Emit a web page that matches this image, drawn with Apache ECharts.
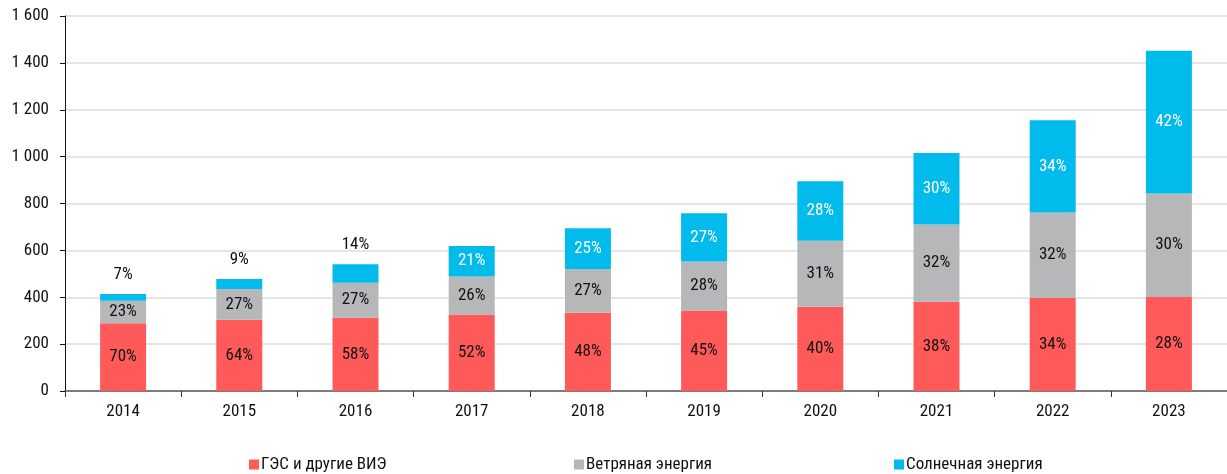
<!DOCTYPE html>
<html><head><meta charset="utf-8">
<script src="https://cdn.jsdelivr.net/npm/echarts@6/dist/echarts.min.js"></script>
<style>html,body{margin:0;padding:0;background:#fff}#c{width:1227px;height:474px}</style>
</head><body><div id="c"></div>
<script>
var categories = ['2014','2015','2016','2017','2018','2019','2020','2021','2022','2023'];
var hydro = [289, 304, 313, 326, 334, 343, 360, 381, 397, 401];
var wind  = [96, 131, 149, 163, 187, 210, 281, 329, 365, 442];
var solar = [29, 43, 79, 130, 173, 205, 254, 306, 393, 609];
var hydroPct = ['70%','64%','58%','52%','48%','45%','40%','38%','34%','28%'];
var windPct  = ['23%','27%','27%','26%','27%','28%','31%','32%','32%','30%'];
var solarPct = ['7%','9%','14%','21%','25%','27%','28%','30%','34%','42%'];
var seriesNames = ['ГЭС и другие ВИЭ','Ветряная энергия','Солнечная энергия'];
var colors = ['#ff5a5a','#b6b7b9','#00bbec'];
var smallSolar = 3;

var font = '"Liberation Sans Narrow", "Roboto Condensed", Roboto, sans-serif';
function mk(vals, pcts, idx){
  return {
    name: seriesNames[idx], type:'bar', stack:'s', barWidth:46,
    itemStyle:{color:colors[idx]},
    label:{show:true, position:'inside', fontFamily:font, fontSize:17,
      color: idx===2 ? '#fff' : '#111',
      formatter:function(p){return pcts[p.dataIndex];}},
    data: vals.map(function(v,i){
      if(idx===2 && i<smallSolar){
        return {value:v, label:{position:'top', color:'#111', distance:11}};
      }
      return v;
    })
  };
}
var chart = echarts.init(document.getElementById('c'));
chart.setOption({
  animation:false,
  textStyle:{fontFamily:font},
  grid:{left:65, right:-5, top:16, bottom:83},
  legend:[0,1,2].map(function(i){
    return {data:[seriesNames[i]], left:[244,569,889][i], top:451,
      itemWidth:10, itemHeight:10, itemGap:4, icon:'rect',
      textStyle:{fontFamily:font, fontSize:17, color:'#111', padding:[0,0,0,-3]}};
  }),
  xAxis:{type:'category', data:categories,
    axisLine:{lineStyle:{color:'#595959', width:1.5}},
    axisTick:{show:true, length:6, lineStyle:{color:'#333'}},
    axisLabel:{fontSize:17, color:'#111', margin:12}},
  yAxis:{type:'value', min:0, max:1600, interval:200,
    axisLine:{show:true, lineStyle:{color:'#111'}},
    axisTick:{show:true, length:5, lineStyle:{color:'#111'}},
    splitLine:{lineStyle:{color:'#dcdcdc', width:1.5}},
    axisLabel:{fontSize:17, color:'#111', margin:16,
      formatter:function(v){return String(v).replace(/\B(?=(\d{3})+(?!\d))/g,' ');}}},
  series:[mk(hydro,hydroPct,0), mk(wind,windPct,1), mk(solar,solarPct,2)]
});
</script></body></html>
